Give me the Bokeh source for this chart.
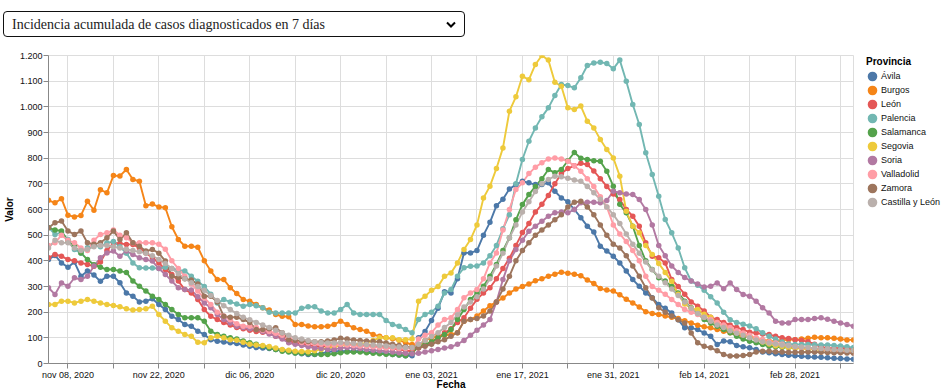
import pandas as pd
from bokeh.plotting import figure
from bokeh.models import (ColumnDataSource, Range1d, FixedTicker, CustomJSTickFormatter,
                          Legend, LegendItem, Select, InlineStyleSheet, GlobalInlineStyleSheet)
from bokeh.layouts import column
from bokeh.embed import file_html
from bokeh.resources import INLINE
import json

# ---------------- data ----------------
start_date = "2020-11-05"
end_date = "2021-03-09"
dates = pd.date_range(start_date, end_date, freq="D")

provincias = ["Ávila", "Burgos", "León", "Palencia", "Salamanca", "Segovia",
              "Soria", "Valladolid", "Zamora", "Castilla y León"]
colores = ["#4c78a8", "#f58518", "#e45756", "#72b7b2", "#54a24b", "#eeca3b",
           "#b279a2", "#ff9da6", "#9d755d", "#bab0ac"]

avila = [405, 421, 392, 375, 395, 340, 360, 345, 320, 340,
         340, 315, 275, 262, 240, 243, 252, 230, 210, 184,
         171, 152, 145, 126, 113, 93, 87, 84, 81, 78,
         72, 67, 62, 60, 58, 55, 52, 48, 41, 38,
         35, 35, 38, 45, 48, 48, 48, 48, 48, 46,
         44, 41, 38, 35, 33, 30, 30, 100, 125, 168,
         215, 280, 275, 330, 431, 431, 440, 500, 550, 615,
         640, 680, 697, 710, 704, 697, 697, 704, 671, 645,
         630, 600, 568, 535, 512, 457, 438, 418, 392, 360,
         327, 301, 275, 256, 230, 215, 197, 170, 139, 139,
         132, 119, 106, 74, 88, 85, 70, 65, 61, 55,
         45, 42, 38, 35, 32, 30, 28, 26, 25, 24,
         22, 20, 19, 18, 17]

burgos = [636, 626, 642, 578, 571, 577, 632, 597, 677, 665,
          732, 731, 756, 717, 710, 615, 621, 610, 607, 533,
          483, 457, 457, 453, 400, 360, 327, 327, 295, 273,
          249, 243, 230, 217, 208, 191, 184, 182, 152, 152,
          146, 143, 143, 145, 152, 165, 152, 139, 132, 126,
          113, 106, 100, 96, 91, 81, 74, 68, 90, 100,
          106, 110, 113, 120, 165, 171, 185, 205, 225, 240,
          255, 275, 290, 300, 310, 322, 330, 340, 348, 356,
          352, 348, 342, 325, 312, 292, 286, 282, 268, 250,
          236, 220, 202, 195, 191, 185, 180, 175, 167, 158,
          149, 143, 139, 132, 126, 120, 113, 106, 104, 97,
          92, 88, 87, 90, 93, 93, 95, 98, 102, 100,
          100, 98, 95, 92, 92]

leon = [412, 425, 418, 405, 400, 392, 386, 379, 395, 440,
        470, 468, 464, 464, 450, 431, 412, 392, 366, 347,
        321, 288, 275, 249, 210, 184, 171, 160, 150, 140,
        135, 130, 125, 122, 119, 106, 100, 87, 81, 78,
        72, 67, 65, 68, 72, 80, 78, 75, 72, 70,
        68, 65, 62, 58, 55, 50, 48, 60, 70, 80,
        100, 120, 135, 160, 178, 215, 250, 275, 295, 330,
        370, 410, 460, 510, 545, 590, 620, 655, 700, 740,
        760, 770, 780, 775, 750, 720, 690, 660, 639, 600,
        574, 535, 470, 418, 412, 392, 327, 300, 270, 240,
        223, 205, 180, 171, 160, 150, 140, 132, 122, 119,
        115, 113, 106, 100, 97, 93, 90, 85, 75, 65,
        61, 58, 62, 58, 55]

palencia = [530, 503, 510, 483, 444, 430, 451, 460, 455, 470,
            475, 455, 430, 392, 373, 372, 372, 370, 375, 370,
            365, 360, 340, 320, 300, 270, 236, 249, 240, 232,
            223, 230, 225, 217, 200, 197, 197, 197, 197, 215,
            221, 221, 205, 197, 197, 210, 230, 197, 191, 191,
            191, 191, 168, 152, 145, 132, 120, 171, 191, 200,
            223, 275, 288, 340, 373, 379, 380, 392, 420, 460,
            525, 580, 700, 795, 866, 918, 961, 996, 1044, 1087,
            1083, 1074, 1113, 1161, 1171, 1174, 1169, 1148, 1182, 1100,
            1009, 931, 821, 736, 652, 561, 509, 450, 373, 321,
            305, 285, 260, 236, 200, 170, 160, 153, 146, 135,
            120, 106, 95, 84, 76, 74, 74, 74, 73, 72,
            72, 70, 68, 65, 62]

salamanca = [529, 520, 516, 477, 457, 431, 405, 385, 375, 366,
             366, 360, 355, 321, 301, 282, 262, 249, 230, 210,
             191, 178, 178, 178, 165, 126, 113, 106, 100, 95,
             88, 81, 75, 67, 60, 55, 48, 45, 41, 40,
             38, 36, 35, 35, 38, 42, 45, 45, 45, 42,
             40, 38, 36, 35, 33, 30, 40, 67, 74, 85,
             100, 113, 132, 171, 210, 249, 275, 301, 340, 386,
             440, 490, 560, 619, 658, 690, 720, 756, 743, 756,
             790, 822, 800, 795, 790, 788, 749, 691, 620, 587,
             535, 460, 400, 366, 334, 321, 300, 275, 243, 217,
             195, 171, 158, 145, 132, 120, 106, 95, 87, 81,
             74, 67, 65, 63, 62, 61, 60, 58, 56, 54,
             53, 51, 50, 49, 48]

segovia = [230, 230, 243, 243, 236, 243, 249, 243, 236, 230,
           226, 221, 213, 208, 210, 213, 223, 191, 165, 139,
           126, 113, 106, 83, 81, 100, 106, 100, 93, 91,
           83, 75, 72, 70, 66, 60, 55, 52, 48, 47,
           46, 50, 55, 60, 65, 70, 72, 74, 76, 80,
           90, 100, 100, 100, 93, 93, 95, 243, 262, 285,
           300, 340, 353, 392, 444, 483, 540, 645, 691, 760,
           840, 983, 1039, 1119, 1106, 1165, 1200, 1182, 1096, 1080,
           996, 990, 1003, 944, 918, 873, 834, 801, 730, 593,
           535, 509, 460, 425, 390, 355, 320, 270, 232, 215,
           210, 192, 180, 160, 147, 134, 120, 114, 107, 96,
           84, 76, 69, 66, 62, 60, 58, 56, 55, 53,
           52, 50, 49, 48, 48]

soria = [295, 269, 314, 301, 334, 327, 340, 380, 412, 431,
         438, 418, 438, 425, 412, 405, 399, 370, 347, 321,
         295, 288, 286, 260, 236, 217, 191, 171, 158, 145,
         140, 135, 132, 125, 115, 106, 95, 81, 75, 70,
         65, 60, 58, 55, 55, 60, 62, 60, 58, 55,
         52, 50, 48, 45, 42, 40, 38, 40, 45, 50,
         55, 60, 65, 75, 90, 110, 130, 150, 171, 240,
         327, 400, 444, 480, 515, 535, 554, 574, 587, 590,
         587, 600, 626, 628, 628, 626, 635, 671, 665, 660,
         658, 639, 600, 540, 460, 420, 380, 355, 335, 321,
         310, 298, 301, 314, 291, 314, 288, 269, 262, 243,
         217, 197, 165, 158, 158, 171, 171, 171, 175, 178,
         172, 165, 158, 152, 145]

valladolid = [460, 470, 500, 480, 470, 450, 440, 480, 503, 509,
              520, 500, 490, 470, 470, 470, 470, 465, 445, 400,
              370, 340, 310, 282, 255, 230, 200, 185, 170, 155,
              145, 145, 140, 130, 125, 118, 110, 100, 90, 82,
              80, 78, 75, 72, 72, 75, 72, 70, 68, 67,
              65, 62, 60, 60, 58, 58, 60, 95, 110, 120,
              150, 171, 178, 210, 256, 275, 288, 330, 392, 431,
              520, 600, 678, 704, 740, 765, 782, 797, 801, 797,
              788, 770, 749, 720, 690, 650, 610, 540, 505, 475,
              440, 400, 340, 300, 285, 270, 249, 230, 210, 200,
              191, 180, 171, 160, 150, 140, 128, 119, 110, 100,
              93, 85, 80, 75, 70, 65, 62, 60, 57, 55,
              52, 50, 48, 45, 43]

zamora = [529, 548, 555, 516, 503, 516, 470, 465, 470, 490,
          516, 483, 509, 470, 457, 438, 444, 430, 399, 340,
          335, 330, 325, 310, 262, 262, 240, 184, 180, 180,
          171, 160, 132, 132, 135, 139, 120, 93, 90, 88,
          86, 85, 85, 88, 92, 98, 95, 92, 90, 88,
          86, 85, 80, 75, 70, 65, 62, 61, 67, 75,
          85, 93, 106, 120, 165, 171, 175, 185, 205, 240,
          290, 340, 400, 440, 470, 500, 520, 540, 560, 580,
          610, 628, 632, 610, 580, 540, 500, 465, 450, 420,
          380, 340, 295, 255, 217, 200, 185, 170, 158, 119,
          81, 67, 61, 50, 35, 29, 29, 31, 35, 45,
          48, 48, 46, 45, 44, 44, 44, 45, 45, 44,
          43, 42, 42, 41, 40]

castilla_y_leon = [450, 480, 470, 470, 450, 440, 445, 455, 460, 460,
                   455, 450, 445, 440, 435, 430, 420, 405, 390, 370,
                   350, 330, 315, 300, 285, 265, 245, 225, 210, 195,
                   180, 170, 160, 150, 140, 130, 120, 110, 100, 95,
                   90, 85, 82, 80, 80, 82, 80, 78, 76, 74,
                   72, 70, 68, 66, 64, 62, 62, 75, 90, 105,
                   120, 140, 160, 190, 220, 240, 260, 290, 330, 380,
                   430, 490, 540, 590, 630, 670, 700, 717, 730, 728,
                   722, 715, 710, 690, 665, 640, 610, 580, 545, 505,
                   465, 430, 395, 365, 340, 315, 290, 265, 240, 215,
                   195, 180, 165, 150, 140, 128, 118, 110, 100, 92,
                   85, 80, 76, 72, 69, 66, 64, 62, 60, 58,
                   57, 55, 54, 52, 51]

series = [avila, burgos, leon, palencia, salamanca, segovia,
          soria, valladolid, zamora, castilla_y_leon]

# x ticks (weekly) and their labels (every other week labelled)
tick_dates = ["2020-11-08", "2020-11-15", "2020-11-22", "2020-11-29", "2020-12-06",
              "2020-12-13", "2020-12-20", "2020-12-27", "2021-01-03", "2021-01-10",
              "2021-01-17", "2021-01-24", "2021-01-31", "2021-02-07", "2021-02-14",
              "2021-02-21", "2021-02-28", "2021-03-07"]
tick_labels = ["nov 08, 2020", "", "nov 22, 2020", "", "dic 06, 2020",
               "", "dic 20, 2020", "", "ene 03, 2021", "",
               "ene 17, 2021", "", "ene 31, 2021", "", "feb 14, 2021",
               "", "feb 28, 2021", ""]
y_ticks = [0, 100, 200, 300, 400, 500, 600, 700, 800, 900, 1000, 1100, 1200]

dropdown_options = ["Incidencia acumulada de casos diagnosticados en 7 días"]

for s in series:
    assert len(s) == len(dates), len(s)

# ---------------- figure ----------------
FONT = "Liberation Sans"

p = figure(x_axis_type="datetime", frame_width=805, frame_height=308,
           output_backend="svg", toolbar_location=None,
           x_range=Range1d(dates[0], dates[-1]), y_range=Range1d(0, 1200),
           min_border_left=43, min_border_top=18, min_border_right=98,
           min_border_bottom=0, margin=(0, 0, 0, 0))
p.background_fill_color = "white"
p.border_fill_color = "white"
p.outline_line_color = "#ddd"

for vals, col in zip(series, colores):
    src = ColumnDataSource(dict(x=dates, y=vals))
    p.line("x", "y", source=src, line_color=col, line_width=1.9, line_join="round")
for vals, col in zip(series, colores):
    src = ColumnDataSource(dict(x=dates, y=vals))
    p.scatter("x", "y", source=src, marker="circle", size=5.5,
              fill_color=col, line_color=None)

tick_ms = [pd.Timestamp(t).value // 10**6 for t in tick_dates]
p.xaxis.ticker = FixedTicker(ticks=tick_ms, minor_ticks=[])
label_map = {str(t): l for t, l in zip(tick_ms, tick_labels)}
p.xaxis.formatter = CustomJSTickFormatter(
    code="const m = " + json.dumps(label_map) + "; const k = String(Math.round(tick)); return (k in m) ? m[k] : '';")
p.yaxis.ticker = FixedTicker(ticks=y_ticks, minor_ticks=[])
p.yaxis.formatter = CustomJSTickFormatter(
    code="return tick >= 1000 ? Math.floor(tick/1000) + '.' + String(tick % 1000).padStart(3, '0') : String(tick);")

for ax in (p.xaxis[0], p.yaxis[0]):
    ax.axis_line_color = "#888"
    ax.major_tick_line_color = "#888"
    ax.major_tick_out = 5
    ax.major_tick_in = 0
    ax.minor_tick_out = 0
    ax.minor_tick_in = 0
    ax.major_label_text_font = FONT
    ax.major_label_text_font_size = "9px"
    ax.major_label_text_color = "#111"
    ax.axis_label_text_font = FONT
    ax.axis_label_text_font_size = "10px"
    ax.axis_label_text_font_style = "bold"
    ax.axis_label_text_color = "#000"
p.xaxis.major_label_standoff = 1
p.xaxis.axis_label_standoff = -4
p.yaxis.major_label_standoff = 1
p.yaxis.axis_label_standoff = 2
p.xaxis.axis_label = "Fecha"
p.yaxis.axis_label = "Valor"
p.grid.grid_line_color = "#ddd"
p.grid.grid_line_width = 1

# legend swatches: one off-range circle each (screen-sized), so the legend can draw it
items = []
for name, col in zip(provincias, colores):
    r = p.ellipse(x=[dates[0]], y=[-1000], width=10, height=10,
                  width_units="screen", height_units="screen",
                  fill_color=col, line_color=None)
    items.append(LegendItem(label=name, renderers=[r]))
legend = Legend(items=items, location=(13, 154), title="Provincia",
                margin=0, padding=0, spacing=0, glyph_width=12, glyph_height=14,
                label_height=14, label_standoff=3, title_standoff=2,
                border_line_alpha=0, background_fill_alpha=0,
                label_text_font=FONT, label_text_font_size="9px", label_text_color="#111",
                title_text_font=FONT, title_text_font_size="10px",
                title_text_font_style="bold", title_text_color="#000")
p.add_layout(legend, "right")

sel_css = InlineStyleSheet(css="""
select, select.bk-input, select:not([multiple]).bk-input {
  font-family: 'Liberation Serif', 'DejaVu Serif', serif !important;
  font-size: 14px !important;
  color: #222 !important;
  height: 26px !important;
  min-height: 26px !important;
  border: 1.5px solid #111 !important;
  border-radius: 4px !important;
  padding: 0 24px 0 8px !important;
  background-color: #fff !important;
  background-image: url("data:image/svg+xml;utf8,<svg xmlns='http://www.w3.org/2000/svg' width='10' height='7' viewBox='0 0 10 7'><path d='M1 1.5 L5 5.5 L9 1.5' fill='none' stroke='%23000' stroke-width='2'/></svg>") !important;
  background-repeat: no-repeat !important;
  background-position: right 8px center !important;
  background-size: 10px 7px !important;
  appearance: none !important;
  -webkit-appearance: none !important;
  box-shadow: none !important;
}
""")
select = Select(options=dropdown_options, value=dropdown_options[0], title="",
                width=462, height=26, margin=(11, 0, 0, 3), stylesheets=[sel_css])

layout = column(select, p,
                stylesheets=[GlobalInlineStyleSheet(css="html, body { overflow: hidden; }")])

open("out.html", "w").write(file_html(layout, INLINE, title="Incidencia"))
